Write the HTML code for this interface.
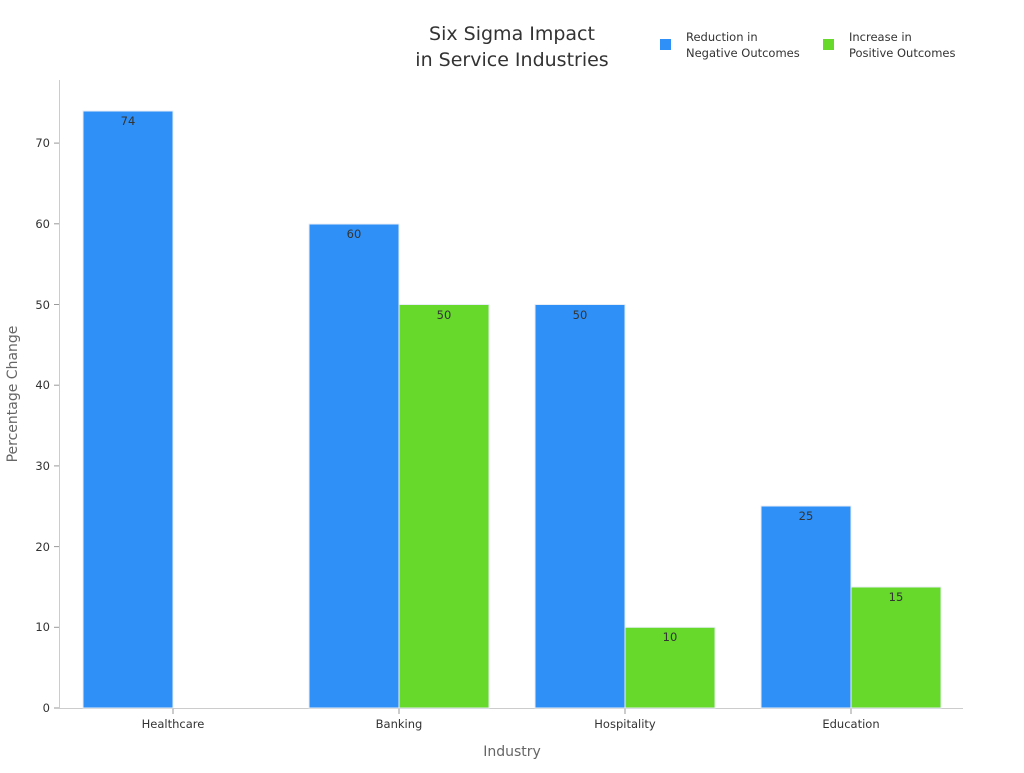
<!DOCTYPE html>
<html><head><meta charset="utf-8"><style>body{margin:0;background:#fff}</style></head><body>
<svg width="1024" height="768" xmlns="http://www.w3.org/2000/svg" font-family="DejaVu Sans, Liberation Sans, sans-serif">
<rect width="1024" height="768" fill="#fff"/>
<text x="512" y="40" text-anchor="middle" font-size="19" fill="#333">Six Sigma Impact</text>
<text x="512" y="66" text-anchor="middle" font-size="19" fill="#333">in Service Industries</text>
<rect x="660" y="39" width="11" height="11" fill="#2f91f7"/>
<text x="686" y="41" font-size="11.5" fill="#333">Reduction in</text>
<text x="686" y="57" font-size="11.5" fill="#333">Negative Outcomes</text>
<rect x="823" y="39" width="11" height="11" fill="#66d92a"/>
<text x="849" y="41" font-size="11.5" fill="#333">Increase in</text>
<text x="849" y="57" font-size="11.5" fill="#333">Positive Outcomes</text>
<line x1="59.5" y1="80" x2="59.5" y2="708" stroke="#ccc"/>
<line x1="59" y1="708.5" x2="963" y2="708.5" stroke="#ccc"/>
<g font-size="11.5" fill="#333" text-anchor="end">
<text x="50" y="712">0</text><text x="50" y="631">10</text><text x="50" y="551">20</text><text x="50" y="470">30</text><text x="50" y="389">40</text><text x="50" y="309">50</text><text x="50" y="228">60</text><text x="50" y="147">70</text>
</g>
<g stroke="#999"><line x1="54" y1="708" x2="59" y2="708"/><line x1="54" y1="627.3" x2="59" y2="627.3"/><line x1="54" y1="546.6" x2="59" y2="546.6"/><line x1="54" y1="465.9" x2="59" y2="465.9"/><line x1="54" y1="385.2" x2="59" y2="385.2"/><line x1="54" y1="304.5" x2="59" y2="304.5"/><line x1="54" y1="223.8" x2="59" y2="223.8"/><line x1="54" y1="143.1" x2="59" y2="143.1"/>
<line x1="173" y1="708" x2="173" y2="714"/><line x1="399" y1="708" x2="399" y2="714"/><line x1="625" y1="708" x2="625" y2="714"/><line x1="851" y1="708" x2="851" y2="714"/></g>
<g stroke="#e8eef5" stroke-width="1">
<rect x="83" y="111" width="90" height="597" fill="#2f91f7"/>
<rect x="309" y="224" width="90" height="484" fill="#2f91f7"/>
<rect x="399" y="304.5" width="90" height="403.5" fill="#66d92a"/>
<rect x="535" y="304.5" width="90" height="403.5" fill="#2f91f7"/>
<rect x="625" y="627.3" width="90" height="80.7" fill="#66d92a"/>
<rect x="761" y="506" width="90" height="202" fill="#2f91f7"/>
<rect x="851" y="587" width="90" height="121" fill="#66d92a"/>
</g>
<g font-size="11.5" fill="#333" text-anchor="middle">
<text x="128" y="125">74</text><text x="354" y="238">60</text><text x="444" y="319">50</text><text x="580" y="319">50</text><text x="670" y="641">10</text><text x="806" y="520">25</text><text x="896" y="601">15</text>
<text x="173" y="728">Healthcare</text><text x="399" y="728">Banking</text><text x="625" y="728">Hospitality</text><text x="851" y="728">Education</text>
</g>
<text x="512" y="756" text-anchor="middle" font-size="14" fill="#666">Industry</text>
<text transform="translate(17,394) rotate(-90)" text-anchor="middle" font-size="14" fill="#666">Percentage Change</text>
</svg>
</body></html>
